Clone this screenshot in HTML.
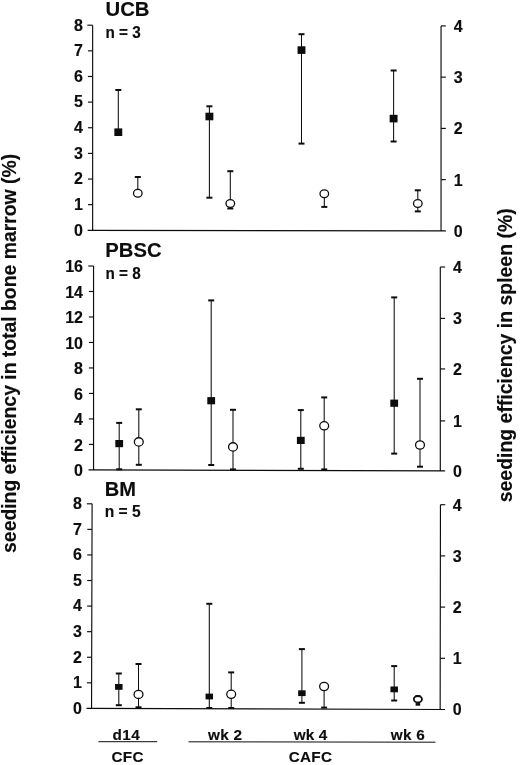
<!DOCTYPE html>
<html><head><meta charset="utf-8"><title>Seeding efficiency</title>
<style>html,body{margin:0;padding:0;background:#fff}svg{display:block}text{font-family:"Liberation Sans",sans-serif;font-weight:bold;fill:#0d0d0d;stroke:#0d0d0d;stroke-width:0.15px}</style></head><body>
<svg width="520" height="765" viewBox="0 0 520 765">
<rect width="520" height="765" fill="#fff"/>
<g stroke="#0c0c0c" stroke-width="1.15" fill="none">
<path d="M92.65 25.2L92.65 230.3M87.65 230.3L445.85 230.9M441.05 25.9L441.05 230.9"/>
<path d="M87.95 204.66H92.65"/>
<path d="M87.95 179.03H92.65"/>
<path d="M87.95 153.39H92.65"/>
<path d="M87.95 127.75H92.65"/>
<path d="M87.95 102.11H92.65"/>
<path d="M87.95 76.47H92.65"/>
<path d="M87.95 50.84H92.65"/>
<path d="M87.35 25.20H92.65"/>
<path d="M441.05 179.65h4.8"/>
<path d="M441.05 128.40h4.8"/>
<path d="M441.05 77.15h4.8"/>
<path d="M441.05 25.90h4.8"/>
</g>
<text x="82.9" y="235.60" font-size="16" text-anchor="end">0</text>
<text x="82.9" y="209.96" font-size="16" text-anchor="end">1</text>
<text x="82.9" y="184.33" font-size="16" text-anchor="end">2</text>
<text x="82.9" y="158.69" font-size="16" text-anchor="end">3</text>
<text x="82.9" y="133.05" font-size="16" text-anchor="end">4</text>
<text x="82.9" y="107.41" font-size="16" text-anchor="end">5</text>
<text x="82.9" y="81.77" font-size="16" text-anchor="end">6</text>
<text x="82.9" y="56.14" font-size="16" text-anchor="end">7</text>
<text x="82.9" y="30.50" font-size="16" text-anchor="end">8</text>
<text x="453.7" y="236.80" font-size="16">0</text>
<text x="453.7" y="185.55" font-size="16">1</text>
<text x="453.7" y="134.30" font-size="16">2</text>
<text x="453.7" y="83.05" font-size="16">3</text>
<text x="453.7" y="31.80" font-size="16">4</text>
<text x="105.5" y="16.1" font-size="21" textLength="44" lengthAdjust="spacingAndGlyphs">UCB</text>
<text x="105.5" y="38.0" font-size="16" textLength="35.3" lengthAdjust="spacingAndGlyphs">n = 3</text>
<g stroke="#0c0c0c">
<path d="M118.3 90V132.2" stroke-width="1.05"/>
<path d="M115.3 90h6" stroke-width="2"/>
<rect x="114.35" y="128.40" width="7.9" height="7.6" fill="#0c0c0c" stroke="none"/>
</g>
<g stroke="#0c0c0c">
<path d="M137.8 177V193.3" stroke-width="1.05"/>
<path d="M134.8 177h6" stroke-width="2"/>
<ellipse cx="137.8" cy="193.3" rx="4.3" ry="3.9" fill="#fff" stroke-width="1.3"/>
</g>
<g stroke="#0c0c0c">
<path d="M209.4 106.3V197.7" stroke-width="1.05"/>
<path d="M206.4 106.3h6" stroke-width="2"/>
<path d="M206.4 197.7h6" stroke-width="2"/>
<rect x="205.45" y="112.70" width="7.9" height="7.6" fill="#0c0c0c" stroke="none"/>
</g>
<g stroke="#0c0c0c">
<path d="M230.3 171.2V208.5" stroke-width="1.05"/>
<path d="M227.3 171.2h6" stroke-width="2"/>
<path d="M227.3 208.5h6" stroke-width="2"/>
<ellipse cx="230.3" cy="203.5" rx="4.3" ry="3.9" fill="#fff" stroke-width="1.3"/>
</g>
<g stroke="#0c0c0c">
<path d="M301.5 34.2V143.6" stroke-width="1.05"/>
<path d="M298.5 34.2h6" stroke-width="2"/>
<path d="M298.5 143.6h6" stroke-width="2"/>
<rect x="297.55" y="46.30" width="7.9" height="7.6" fill="#0c0c0c" stroke="none"/>
</g>
<g stroke="#0c0c0c">
<path d="M324.3 193.8V206.9" stroke-width="1.05"/>
<path d="M321.3 206.9h6" stroke-width="2"/>
<ellipse cx="324.3" cy="193.8" rx="4.3" ry="3.9" fill="#fff" stroke-width="1.3"/>
</g>
<g stroke="#0c0c0c">
<path d="M393.6 70.5V141.5" stroke-width="1.05"/>
<path d="M390.6 70.5h6" stroke-width="2"/>
<path d="M390.6 141.5h6" stroke-width="2"/>
<rect x="389.65" y="114.80" width="7.9" height="7.6" fill="#0c0c0c" stroke="none"/>
</g>
<g stroke="#0c0c0c">
<path d="M417.8 190.3V211.4" stroke-width="1.05"/>
<path d="M414.8 190.3h6" stroke-width="2"/>
<path d="M414.8 211.4h6" stroke-width="2"/>
<ellipse cx="417.8" cy="203.5" rx="4.3" ry="3.9" fill="#fff" stroke-width="1.3"/>
</g>
<g stroke="#0c0c0c" stroke-width="1.15" fill="none">
<path d="M93.55 266.0L93.55 469.9M88.55 469.9L445.1 470.9M440.3 267.0L440.3 470.9"/>
<path d="M88.85 444.41H93.55"/>
<path d="M88.85 418.92H93.55"/>
<path d="M88.85 393.44H93.55"/>
<path d="M88.85 367.95H93.55"/>
<path d="M88.85 342.46H93.55"/>
<path d="M88.85 316.98H93.55"/>
<path d="M88.85 291.49H93.55"/>
<path d="M88.25 266.00H93.55"/>
<path d="M440.30 420.92h4.8"/>
<path d="M440.30 368.95h4.8"/>
<path d="M440.30 318.38h4.8"/>
<path d="M440.30 267.00h4.8"/>
</g>
<text x="83.0" y="476.10" font-size="16" text-anchor="end">0</text>
<text x="83.0" y="450.61" font-size="16" text-anchor="end">2</text>
<text x="83.0" y="425.12" font-size="16" text-anchor="end">4</text>
<text x="83.0" y="399.64" font-size="16" text-anchor="end">6</text>
<text x="83.0" y="374.15" font-size="16" text-anchor="end">8</text>
<text x="83.0" y="348.66" font-size="16" text-anchor="end">10</text>
<text x="83.0" y="323.18" font-size="16" text-anchor="end">12</text>
<text x="83.0" y="297.69" font-size="16" text-anchor="end">14</text>
<text x="83.0" y="272.20" font-size="16" text-anchor="end">16</text>
<text x="452.9" y="476.80" font-size="16">0</text>
<text x="452.9" y="426.82" font-size="16">1</text>
<text x="452.9" y="374.85" font-size="16">2</text>
<text x="452.9" y="324.27" font-size="16">3</text>
<text x="452.9" y="272.90" font-size="16">4</text>
<text x="105.3" y="256.6" font-size="21" textLength="56.2" lengthAdjust="spacingAndGlyphs">PBSC</text>
<text x="105.5" y="278.6" font-size="16" textLength="35.3" lengthAdjust="spacingAndGlyphs">n = 8</text>
<g stroke="#0c0c0c">
<path d="M119.2 422.9V469.3" stroke-width="1.05"/>
<path d="M116.2 422.9h6" stroke-width="2"/>
<path d="M116.2 469.3h6" stroke-width="2"/>
<rect x="115.30" y="440.00" width="7.8" height="7.2" fill="#0c0c0c" stroke="none"/>
</g>
<g stroke="#0c0c0c">
<path d="M138.8 409.3V464.8" stroke-width="1.05"/>
<path d="M135.8 409.3h6" stroke-width="2"/>
<path d="M135.8 464.8h6" stroke-width="2"/>
<ellipse cx="138.8" cy="441.9" rx="4.45" ry="4.15" fill="#fff" stroke-width="1.3"/>
</g>
<g stroke="#0c0c0c">
<path d="M211.2 300.4V465.0" stroke-width="1.05"/>
<path d="M208.2 300.4h6" stroke-width="2"/>
<path d="M208.2 465.0h6" stroke-width="2"/>
<rect x="207.30" y="397.10" width="7.8" height="7.2" fill="#0c0c0c" stroke="none"/>
</g>
<g stroke="#0c0c0c">
<path d="M233 409.8V469.4" stroke-width="1.05"/>
<path d="M230 409.8h6" stroke-width="2"/>
<path d="M230 469.4h6" stroke-width="2"/>
<ellipse cx="233" cy="446.9" rx="4.45" ry="4.15" fill="#fff" stroke-width="1.3"/>
</g>
<g stroke="#0c0c0c">
<path d="M300.8 410.1V468.8" stroke-width="1.05"/>
<path d="M297.8 410.1h6" stroke-width="2"/>
<path d="M297.8 468.8h6" stroke-width="2"/>
<rect x="296.90" y="436.80" width="7.8" height="7.2" fill="#0c0c0c" stroke="none"/>
</g>
<g stroke="#0c0c0c">
<path d="M324.2 397.4V469.4" stroke-width="1.05"/>
<path d="M321.2 397.4h6" stroke-width="2"/>
<path d="M321.2 469.4h6" stroke-width="2"/>
<ellipse cx="324.2" cy="425.8" rx="4.45" ry="4.15" fill="#fff" stroke-width="1.3"/>
</g>
<g stroke="#0c0c0c">
<path d="M394.2 297.4V453.6" stroke-width="1.05"/>
<path d="M391.2 297.4h6" stroke-width="2"/>
<path d="M391.2 453.6h6" stroke-width="2"/>
<rect x="390.30" y="399.60" width="7.8" height="7.2" fill="#0c0c0c" stroke="none"/>
</g>
<g stroke="#0c0c0c">
<path d="M420 378.8V466.7" stroke-width="1.05"/>
<path d="M417 378.8h6" stroke-width="2"/>
<path d="M417 466.7h6" stroke-width="2"/>
<ellipse cx="420" cy="445" rx="4.45" ry="4.15" fill="#fff" stroke-width="1.3"/>
</g>
<g stroke="#0c0c0c" stroke-width="1.15" fill="none">
<path d="M92.1 503.8L91.55 708.4M86.55 708.4L444.95 709.5M440.45 504.7L440.15 709.5"/>
<path d="M86.92 682.82H91.62"/>
<path d="M86.99 657.25H91.69"/>
<path d="M87.06 631.67H91.76"/>
<path d="M87.12 606.10H91.82"/>
<path d="M87.19 580.52H91.89"/>
<path d="M87.26 554.95H91.96"/>
<path d="M87.33 529.38H92.03"/>
<path d="M86.80 503.80H92.10"/>
<path d="M440.22 658.30h4.8"/>
<path d="M440.30 607.10h4.8"/>
<path d="M440.38 555.90h4.8"/>
<path d="M440.45 504.70h4.8"/>
</g>
<text x="81.8" y="713.70" font-size="16" text-anchor="end">0</text>
<text x="81.8" y="688.12" font-size="16" text-anchor="end">1</text>
<text x="81.8" y="662.55" font-size="16" text-anchor="end">2</text>
<text x="81.8" y="636.97" font-size="16" text-anchor="end">3</text>
<text x="81.8" y="611.40" font-size="16" text-anchor="end">4</text>
<text x="81.8" y="585.82" font-size="16" text-anchor="end">5</text>
<text x="81.8" y="560.25" font-size="16" text-anchor="end">6</text>
<text x="81.8" y="534.67" font-size="16" text-anchor="end">7</text>
<text x="81.8" y="509.10" font-size="16" text-anchor="end">8</text>
<text x="452.8" y="715.40" font-size="16">0</text>
<text x="452.8" y="664.20" font-size="16">1</text>
<text x="452.8" y="613.00" font-size="16">2</text>
<text x="452.8" y="561.80" font-size="16">3</text>
<text x="452.8" y="510.60" font-size="16">4</text>
<text x="104.7" y="495.8" font-size="21" textLength="31.2" lengthAdjust="spacingAndGlyphs">BM</text>
<text x="104.7" y="517.0" font-size="16" textLength="36.0" lengthAdjust="spacingAndGlyphs">n = 5</text>
<g stroke="#0c0c0c">
<path d="M118.8 673.5V705.2" stroke-width="1.05"/>
<path d="M115.8 673.5h6" stroke-width="2"/>
<path d="M115.8 705.2h6" stroke-width="2"/>
<rect x="115.05" y="684.00" width="7.5" height="5.8" fill="#0c0c0c" stroke="none"/>
</g>
<g stroke="#0c0c0c">
<path d="M138.5 664.0V707.3" stroke-width="1.05"/>
<path d="M135.5 664.0h6" stroke-width="2"/>
<path d="M135.5 707.3h6" stroke-width="2"/>
<ellipse cx="138.5" cy="694.4" rx="4.45" ry="4.1" fill="#fff" stroke-width="1.3"/>
</g>
<g stroke="#0c0c0c">
<path d="M209.3 603.8V708" stroke-width="1.05"/>
<path d="M206.3 603.8h6" stroke-width="2"/>
<path d="M206.3 708h6" stroke-width="2"/>
<rect x="205.55" y="693.60" width="7.5" height="5.8" fill="#0c0c0c" stroke="none"/>
</g>
<g stroke="#0c0c0c">
<path d="M231.2 672.4V708" stroke-width="1.05"/>
<path d="M228.2 672.4h6" stroke-width="2"/>
<path d="M228.2 708h6" stroke-width="2"/>
<ellipse cx="231.2" cy="694.3" rx="4.45" ry="4.1" fill="#fff" stroke-width="1.3"/>
</g>
<g stroke="#0c0c0c">
<path d="M301.9 649.1V702.8" stroke-width="1.05"/>
<path d="M298.9 649.1h6" stroke-width="2"/>
<path d="M298.9 702.8h6" stroke-width="2"/>
<rect x="298.15" y="690.30" width="7.5" height="5.8" fill="#0c0c0c" stroke="none"/>
</g>
<g stroke="#0c0c0c">
<path d="M324.1 686.5V707.6" stroke-width="1.05"/>
<path d="M321.1 707.6h6" stroke-width="2"/>
<ellipse cx="324.1" cy="686.5" rx="4.45" ry="4.1" fill="#fff" stroke-width="1.3"/>
</g>
<g stroke="#0c0c0c">
<path d="M394.2 666.1V700.5" stroke-width="1.05"/>
<path d="M391.2 666.1h6" stroke-width="2"/>
<path d="M391.2 700.5h6" stroke-width="2"/>
<rect x="390.45" y="686.50" width="7.5" height="5.8" fill="#0c0c0c" stroke="none"/>
</g>
<g stroke="#0c0c0c">
<path d="M417.9 695.9V704.4" stroke-width="1.05"/>
<path d="M415.29999999999995 695.9h5.2" stroke-width="1.6"/><path d="M415.59999999999997 704.4h4.6" stroke-width="2.6"/>
<ellipse cx="417.9" cy="699.3" rx="4.05" ry="3.2" fill="#fff" stroke-width="1.8"/>
</g>
<g stroke="#0c0c0c" stroke-width="1"><path d="M98.4 741.7H157.2M188.5 741.8L435.5 742.2"/></g>
<text x="126.2" y="740.4" font-size="15.3" text-anchor="middle" textLength="27.3" lengthAdjust="spacing">d14</text>
<text x="225" y="740.4" font-size="15.3" text-anchor="middle" textLength="33.9" lengthAdjust="spacing">wk 2</text>
<text x="310.6" y="740.4" font-size="15.3" text-anchor="middle" textLength="33.5" lengthAdjust="spacing">wk 4</text>
<text x="407.7" y="740.4" font-size="15.3" text-anchor="middle" textLength="33.9" lengthAdjust="spacing">wk 6</text>
<text x="127.5" y="761.8" font-size="15.3" text-anchor="middle" textLength="32" lengthAdjust="spacing">CFC</text>
<text x="310.4" y="761.8" font-size="15.3" text-anchor="middle" textLength="43.2" lengthAdjust="spacing">CAFC</text>
<text transform="translate(16 552.9) rotate(-90)" font-size="19.4" textLength="399" lengthAdjust="spacing">seeding efficiency in total bone marrow (%)</text>
<text transform="translate(512.1 502.3) rotate(-90)" font-size="19.4" textLength="294" lengthAdjust="spacing">seeding efficiency in spleen (%)</text>
</svg></body></html>
